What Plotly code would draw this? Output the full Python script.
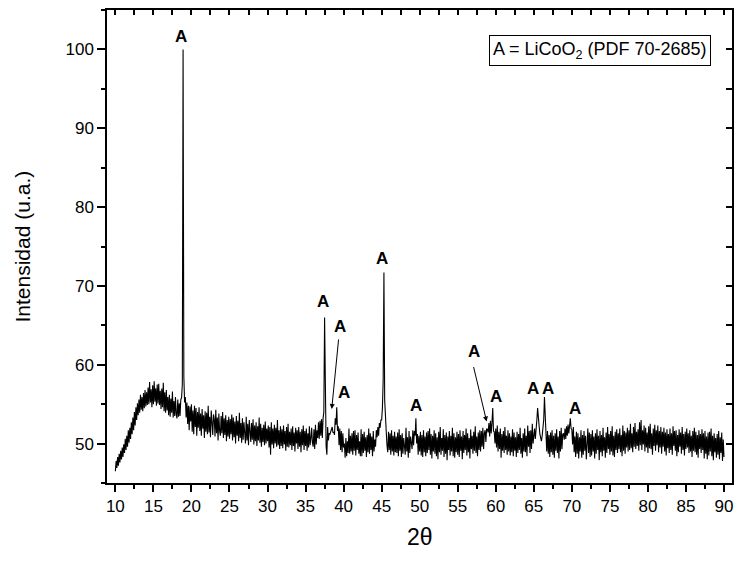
import plotly.graph_objects as go

# ---- data: XRD scan, 2theta from 10 to 90 deg, step 0.1 ----
two_theta_start = 10.0
two_theta_step = 0.1
intensity = [
    46.5, 47.8, 46.9, 48.3, 47.2, 48.7, 47.6, 49.1, 48.0, 49.5,
    48.3, 49.9, 48.8, 50.6, 49.2, 51.0, 49.6, 51.7, 50.1, 52.0,
    50.6, 52.7, 51.2, 53.3, 51.7, 54.0, 52.3, 54.6, 53.0, 55.1,
    53.6, 55.6, 53.9, 56.2, 54.3, 55.9, 54.1, 56.4, 54.5, 56.8,
    54.7, 56.5, 54.9, 57.1, 55.0, 57.8, 55.2, 56.9, 54.6, 57.4,
    55.0, 57.9, 55.3, 57.0, 54.8, 57.5, 55.1, 57.6, 54.9, 56.7,
    54.4, 57.0, 54.6, 57.7, 54.1, 56.5, 53.9, 56.8, 54.2, 55.9,
    53.6, 56.2, 53.4, 55.7, 53.9, 56.6, 53.3, 55.4, 53.5, 55.9,
    53.7, 53.2, 55.6, 53.4, 55.1, 53.5, 55.6, 55.8, 57.5, 100.0,
    58.5, 55.2, 55.9, 53.3, 55.2, 52.5, 54.8, 51.7, 54.7, 52.8,
    55.0, 51.5, 54.2, 51.2, 54.8, 52.1, 54.5, 51.0, 54.0, 52.0,
    54.6, 51.6, 53.8, 51.0, 54.4, 51.9, 53.6, 50.7, 54.1, 51.5,
    53.9, 51.2, 54.8, 51.4, 53.4, 50.8, 54.2, 51.7, 51.1, 53.7,
    53.1, 50.9, 54.3, 51.3, 53.3, 50.4, 53.8, 51.6, 51.0, 53.5,
    51.3, 54.0, 50.7, 53.2, 51.1, 53.6, 50.3, 53.0, 50.9, 53.4,
    50.6, 53.1, 51.2, 53.7, 50.4, 53.3, 50.8, 52.8, 50.0, 53.5,
    51.0, 52.9, 50.3, 53.9, 50.7, 52.6, 50.1, 53.2, 50.5, 52.7,
    50.8, 50.0, 53.4, 50.4, 52.5, 49.8, 53.0, 50.6, 50.2, 52.6,
    50.5, 53.1, 49.9, 52.3, 50.3, 52.7, 49.7, 52.2, 50.4, 53.3,
    50.1, 52.5, 49.6, 52.0, 50.2, 52.4, 49.8, 52.8, 50.0, 51.9,
    50.3, 52.3, 49.5, 52.1, 48.6, 52.7, 49.9, 51.9, 49.4, 52.4,
    50.0, 52.0, 49.6, 53.0, 49.8, 51.7, 49.3, 52.2, 49.7, 51.8,
    49.4, 52.3, 49.9, 51.6, 49.1, 52.1, 49.6, 52.5, 49.5, 51.5,
    49.8, 51.9, 49.2, 52.2, 49.7, 51.4, 49.0, 52.0, 50.0, 51.7,
    49.3, 52.1, 49.6, 51.5, 48.9, 51.8, 49.8, 52.3, 49.2, 51.6,
    49.7, 51.9, 49.1, 51.3, 49.5, 52.2, 49.8, 50.7, 52.0, 50.1,
    49.6, 51.8, 49.3, 52.4, 49.9, 51.7, 50.7, 52.7, 50.6, 52.9,
    51.0, 53.1, 50.7, 53.2, 54.0, 66.0, 54.5, 49.7, 48.6, 52.1,
    50.4, 51.3, 51.2, 51.6, 51.6, 52.1, 51.4, 51.5, 51.1, 53.2,
    52.4, 54.6, 51.6, 52.2, 49.8, 51.9, 49.2, 51.6, 48.9, 51.3,
    49.5, 50.0, 48.2, 50.7, 48.4, 50.3, 48.8, 51.9, 48.7, 51.0,
    49.0, 51.3, 48.6, 51.6, 49.1, 51.7, 48.5, 51.1, 49.2, 51.4,
    48.7, 50.3, 48.4, 51.8, 48.4, 51.2, 48.8, 51.5, 49.1, 50.8,
    48.3, 51.1, 48.9, 51.9, 48.7, 51.3, 49.2, 50.9, 48.4, 51.6,
    49.0, 50.5, 49.6, 51.7, 50.8, 52.1, 51.0, 52.6, 52.0, 53.0,
    53.0, 54.5, 58.0, 71.7, 55.5, 52.5, 51.6, 49.8, 48.9, 51.5,
    49.2, 51.3, 48.6, 51.7, 49.0, 51.0, 48.5, 51.5, 48.9, 50.9,
    48.8, 51.4, 48.4, 51.8, 49.1, 51.1, 48.3, 51.3, 48.7, 50.7,
    49.9, 48.6, 52.0, 49.0, 50.8, 48.2, 51.6, 48.8, 50.9, 49.9,
    49.3, 51.7, 49.8, 51.6, 51.0, 53.2, 50.0, 51.2, 48.6, 51.0,
    49.0, 51.5, 48.5, 51.1, 48.3, 51.7, 48.9, 50.9, 48.4, 51.4,
    48.8, 51.6, 49.2, 51.9, 48.6, 51.2, 48.1, 51.0, 49.0, 51.7,
    48.7, 51.3, 48.4, 50.8, 48.0, 51.5, 48.9, 52.1, 48.6, 50.7,
    49.1, 51.8, 48.3, 51.1, 48.7, 51.4, 47.9, 50.9, 49.2, 51.6,
    48.5, 51.0, 49.0, 52.0, 48.4, 51.3, 48.2, 50.8, 48.9, 51.5,
    48.6, 51.2, 48.3, 51.7, 49.1, 50.9, 48.0, 51.6, 48.8, 51.1,
    49.2, 51.9, 48.5, 51.3, 48.9, 50.7, 48.1, 51.8, 49.3, 51.0,
    48.7, 51.5, 49.1, 52.2, 48.8, 50.9, 48.4, 51.4, 49.2, 51.7,
    49.0, 51.6, 49.6, 52.0, 49.3, 51.3, 51.7, 50.2, 51.9, 51.8,
    51.4, 52.6, 50.9, 52.9, 51.3, 52.6, 54.5, 51.6, 51.5, 50.0,
    51.9, 49.5, 52.3, 49.0, 51.5, 49.3, 51.9, 48.2, 51.2, 49.1,
    51.6, 48.8, 52.1, 49.2, 51.0, 48.6, 51.7, 49.0, 51.3, 48.5,
    50.9, 48.9, 51.8, 48.4, 51.4, 49.1, 50.8, 48.3, 51.5, 48.8,
    51.2, 49.2, 52.0, 48.7, 50.7, 48.2, 51.3, 49.0, 51.9, 48.9,
    51.0, 48.4, 52.3, 49.6, 51.6, 48.8, 51.7, 49.3, 52.5, 50.0,
    50.8, 51.9, 50.6, 52.7, 53.0, 54.5, 52.8, 52.2, 51.2, 50.6,
    50.3, 51.0, 51.8, 53.0, 55.9, 53.2, 50.3, 49.0, 51.6, 48.7,
    51.1, 48.3, 51.4, 48.9, 51.7, 48.6, 51.0, 48.2, 51.3, 49.1,
    51.8, 48.8, 50.9, 48.1, 51.6, 49.0, 52.0, 49.3, 51.2, 51.3,
    50.5, 51.9, 50.6, 52.2, 51.0, 52.4, 51.3, 52.7, 53.2, 51.9,
    51.8, 49.9, 52.1, 48.9, 50.9, 48.3, 51.5, 48.7, 51.3, 48.1,
    50.8, 49.0, 51.7, 48.2, 51.1, 48.6, 51.6, 49.1, 51.0, 48.0,
    50.6, 51.9, 48.8, 51.4, 48.3, 51.2, 48.5, 51.7, 49.0, 50.9,
    48.1, 51.3, 48.7, 51.8, 49.2, 51.0, 47.9, 51.6, 48.9, 51.1,
    48.4, 52.0, 49.1, 50.8, 48.2, 51.4, 48.8, 52.1, 49.3, 51.2,
    48.6, 51.6, 49.0, 52.2, 48.5, 51.0, 48.3, 51.5, 49.2, 51.8,
    48.8, 51.3, 49.3, 51.9, 48.9, 51.1, 48.4, 52.3, 49.1, 51.6,
    48.7, 51.4, 49.5, 52.0, 49.0, 51.7, 49.2, 52.5, 49.4, 51.3,
    48.9, 52.1, 49.6, 52.6, 49.3, 51.5, 49.7, 51.8, 49.1, 52.7,
    49.8, 53.0, 49.2, 51.7, 49.9, 52.3, 49.0, 52.0, 49.5, 51.4,
    48.8, 52.2, 49.4, 52.5, 49.3, 51.3, 48.6, 51.9, 49.7, 52.4,
    49.1, 51.7, 49.8, 52.3, 48.9, 51.6, 49.5, 52.1, 48.7, 51.5,
    49.6, 52.0, 49.0, 51.4, 48.5, 51.8, 49.4, 51.2, 48.8, 51.9,
    49.2, 51.3, 48.6, 52.2, 49.7, 51.6, 49.1, 51.7, 48.4, 51.1,
    48.9, 51.8, 49.6, 51.4, 48.7, 52.1, 49.2, 51.2, 48.5, 51.5,
    49.3, 51.9, 49.5, 51.3, 48.8, 51.7, 49.0, 51.0, 48.3, 51.6,
    49.1, 52.0, 48.9, 51.5, 48.6, 51.1, 48.2, 51.7, 49.3, 51.2,
    48.8, 51.8, 49.2, 51.3, 48.1, 51.6, 48.7, 50.9, 48.0, 51.4,
    48.5, 51.5, 49.0, 51.9, 48.4, 51.0, 47.9, 51.3, 48.9, 50.7,
    48.2, 51.2, 48.6, 51.6, 48.0, 50.8, 48.8, 51.4, 47.8, 50.5,
    48.3,
]

x_range = [8.9, 91.05]
y_range = [45, 105]
x_ticks = [10, 15, 20, 25, 30, 35, 40, 45, 50, 55, 60, 65, 70, 75, 80, 85, 90]
y_ticks = [50, 60, 70, 80, 90, 100]

legend_text = "A = LiCoO<sub>2</sub> (PDF 70-2685)"
x_title = "2θ"
y_title = "Intensidad (u.a.)"

# peak label placement (2theta, intensity)
label_x = [18.65, 37.33, 39.5, 40.1, 45.08, 49.5, 57.18, 60.03, 64.85, 66.9, 70.4]
label_y = [101.6, 68.0, 64.8, 56.5, 73.5, 54.8, 61.7, 56.0, 57.0, 57.0, 54.5]
# arrows: tail -> head
arrow_tail_x = [39.36, 57.04]
arrow_tail_y = [63.4, 59.9]
arrow_head_x = [38.44, 58.8]
arrow_head_y = [54.4, 52.8]

FONT = "Liberation Sans, Arial, sans-serif"

fig = go.Figure()
fig.add_trace(go.Scatter(
    x0=two_theta_start, dx=two_theta_step, y=intensity,
    mode="lines", line=dict(color="black", width=1.1),
    showlegend=False, hoverinfo="skip",
))
# dummy trace for mirror axes (top / right)
fig.add_trace(go.Scatter(x=[None], y=[None], xaxis="x2", yaxis="y2",
                         showlegend=False, hoverinfo="skip"))

annotations = []
for lx, ly in zip(label_x, label_y):
    annotations.append(dict(x=lx, y=ly, xref="x", yref="y", text="<b>A</b>",
                            showarrow=False, font=dict(family=FONT, size=17, color="black"),
                            xanchor="center", yanchor="middle"))
for tx, ty, hx, hy in zip(arrow_tail_x, arrow_tail_y, arrow_head_x, arrow_head_y):
    annotations.append(dict(x=hx, y=hy, ax=tx, ay=ty, xref="x", yref="y",
                            axref="x", ayref="y", text="", showarrow=True,
                            arrowhead=2, arrowsize=1, arrowwidth=1,
                            arrowcolor="black", standoff=0, startstandoff=0))
annotations.append(dict(x=73.7, y=99.8, xref="x", yref="y", text=legend_text,
                        showarrow=False, font=dict(family=FONT, size=18, color="black"),
                        bordercolor="black", borderwidth=1, borderpad=3,
                        bgcolor="white", xanchor="center", yanchor="middle"))
annotations.append(dict(x=-0.136, y=0.5, xref="paper", yref="paper", text=y_title,
                        textangle=-90, showarrow=False,
                        font=dict(family=FONT, size=21, color="black"),
                        xanchor="center", yanchor="middle"))
annotations.append(dict(x=(420 - 107) / 625, y=-(537 - 483) / 473, xref="paper", yref="paper",
                        text=x_title, showarrow=False,
                        font=dict(family=FONT, size=23, color="black"),
                        xanchor="center", yanchor="middle"))

axis_common = dict(showgrid=False, zeroline=False, showline=True, linecolor="black",
                   linewidth=1.5, tickcolor="black", tickwidth=1.5)

fig.update_layout(
    width=737, height=561,
    margin=dict(l=107, r=5, t=10, b=78),
    paper_bgcolor="white", plot_bgcolor="white",
    font=dict(family=FONT, size=17, color="black"),
    annotations=annotations,
    xaxis=dict(range=x_range, tickmode="array", tickvals=x_ticks,
               ticks="outside", ticklen=7,
               minor=dict(dtick=2.5, tick0=10, ticks="outside", ticklen=4,
                          tickcolor="black", tickwidth=1.5),
               tickfont=dict(family=FONT, size=17), **axis_common),
    yaxis=dict(range=y_range, tickmode="array", tickvals=y_ticks,
               ticks="outside", ticklen=8,
               minor=dict(dtick=5, tick0=50, ticks="outside", ticklen=4,
                          tickcolor="black", tickwidth=1.5),
               tickfont=dict(family=FONT, size=17), **axis_common),
    xaxis2=dict(range=x_range, overlaying="x", side="top", ticks="inside",
                tick0=10, dtick=2.5, ticklen=5, showticklabels=False, **axis_common),
    yaxis2=dict(range=y_range, overlaying="y", side="right", ticks="inside",
                tick0=50, dtick=5, ticklen=6, showticklabels=False, **axis_common),
)

fig.write_html("out.html")
